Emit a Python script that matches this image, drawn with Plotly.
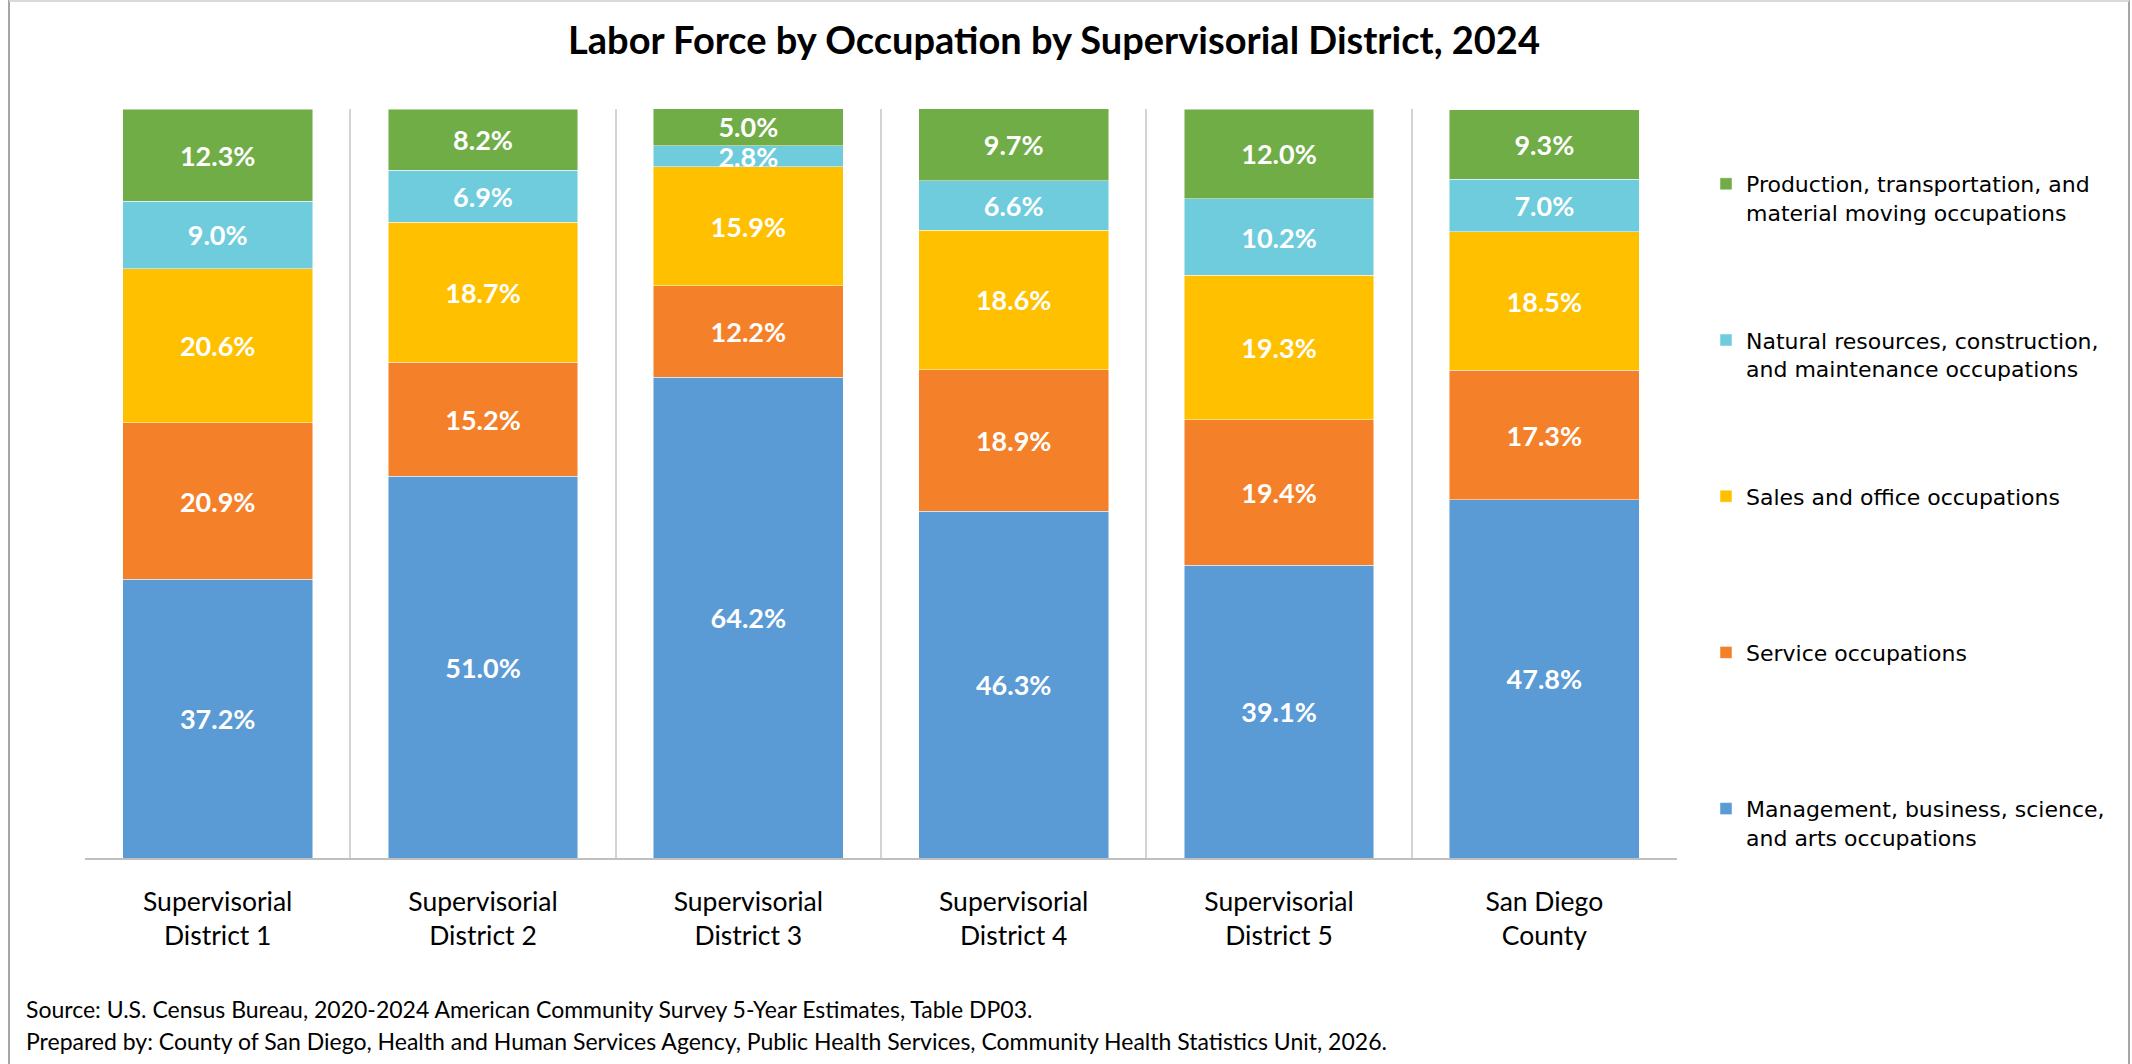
import plotly.graph_objects as go

categories = ["Supervisorial<br>District 1", "Supervisorial<br>District 2", "Supervisorial<br>District 3",
              "Supervisorial<br>District 4", "Supervisorial<br>District 5", "San Diego<br>County"]

management = [37.2, 51.0, 64.2, 46.3, 39.1, 47.8]
service = [20.9, 15.2, 12.2, 18.9, 19.4, 17.3]
sales = [20.6, 18.7, 15.9, 18.6, 19.3, 18.5]
natural = [9.0, 6.9, 2.8, 6.6, 10.2, 7.0]
production = [12.3, 8.2, 5.0, 9.7, 12.0, 9.3]

series_names = [
    "Management, business, science,<br>and arts occupations",
    "Service occupations<br> ",
    "Sales and office occupations<br> ",
    "Natural resources, construction,<br>and maintenance occupations",
    "Production, transportation, and<br>material moving occupations",
]
series_values = [management, service, sales, natural, production]
series_colors = ["#5B9BD5", "#F4812A", "#FFC000", "#6FCCDD", "#70AD47"]

W, H = 2132, 1064
L, R, T, B = 85, 1677, 109, 858


def px_x(p):
    return (p - L) / (R - L)


def px_y(p):
    return (B - p) / (B - T)


fig = go.Figure()
n = len(series_names)
for i, (name, vals, col) in enumerate(zip(series_names, series_values, series_colors)):
    fig.add_trace(go.Bar(
        x=categories, y=vals, name=name, legendgroup=f"g{i}", legendrank=n - i,
        marker=dict(color=col, line=dict(color="rgba(255,255,255,0.6)", width=0.8)),
        texttemplate="%{y:.1f}%", textposition="inside", insidetextanchor="middle",
        textangle=0, constraintext="none",
        textfont=dict(family="Lato", size=27, color="white", weight="bold"),
        hoverinfo="skip",
    ))

fig.update_layout(
    width=W, height=H,
    margin=dict(l=L, r=W - R, t=T, b=H - B, pad=0),
    paper_bgcolor="white", plot_bgcolor="white",
    barmode="stack", bargap=0.285,
    uniformtext=dict(minsize=27, mode="show"),
    font=dict(family="Lato", color="#000000"),
    title=dict(text="Labor Force by Occupation by Supervisorial District, 2024",
               x=1054 / W, xanchor="center", xref="container",
               y=1 - 41 / H, yanchor="middle", yref="container",
               font=dict(family="Lato", size=38, color="#000000", weight="bold")),
    xaxis=dict(type="category", tickson="boundaries", showgrid=True, gridcolor="#D3D3D3", gridwidth=2,
               showline=True, linecolor="#BFBFBF", linewidth=2, ticks="",
               tickfont=dict(family="Lato", size=26.5, color="#000000"), ticklabelstandoff=19),
    yaxis=dict(range=[0, 100], showgrid=False, zeroline=False, showticklabels=False, showline=False),
    legend=dict(x=px_x(1706), xanchor="left", y=px_y(163), yanchor="top",
                traceorder="grouped", tracegroupgap=96, valign="top",
                font=dict(family="DejaVu Sans", size=22, color="#000000"),
                bgcolor="rgba(0,0,0,0)"),
    showlegend=True,
)

fig.add_annotation(text="Source: U.S. Census Bureau, 2020-2024 American Community Survey 5-Year Estimates, Table DP03.",
                   x=px_x(24), y=px_y(1009), xref="paper", yref="paper", xanchor="left", yanchor="middle",
                   showarrow=False, font=dict(family="Lato", size=23, color="#000000"))
fig.add_annotation(text="Prepared by: County of San Diego, Health and Human Services Agency, Public Health Services, Community Health Statistics Unit, 2026.",
                   x=px_x(24), y=px_y(1041), xref="paper", yref="paper", xanchor="left", yanchor="middle",
                   showarrow=False, font=dict(family="Lato", size=23, color="#000000"))

# outer chart border
fig.add_shape(type="line", xref="paper", yref="paper", x0=px_x(9), x1=px_x(9), y0=px_y(0), y1=px_y(H),
              line=dict(color="#A6A6A6", width=2))
fig.add_shape(type="line", xref="paper", yref="paper", x0=px_x(2129), x1=px_x(2129), y0=px_y(0), y1=px_y(H),
              line=dict(color="#A6A6A6", width=2))
fig.add_shape(type="line", xref="paper", yref="paper", x0=px_x(9), x1=px_x(2129), y0=px_y(1), y1=px_y(1),
              line=dict(color="#D9D9D9", width=2))

fig.write_html("out.html", config={"displayModeBar": False},
               post_script="document.body.style.margin='0px';document.body.style.overflow='hidden';")
